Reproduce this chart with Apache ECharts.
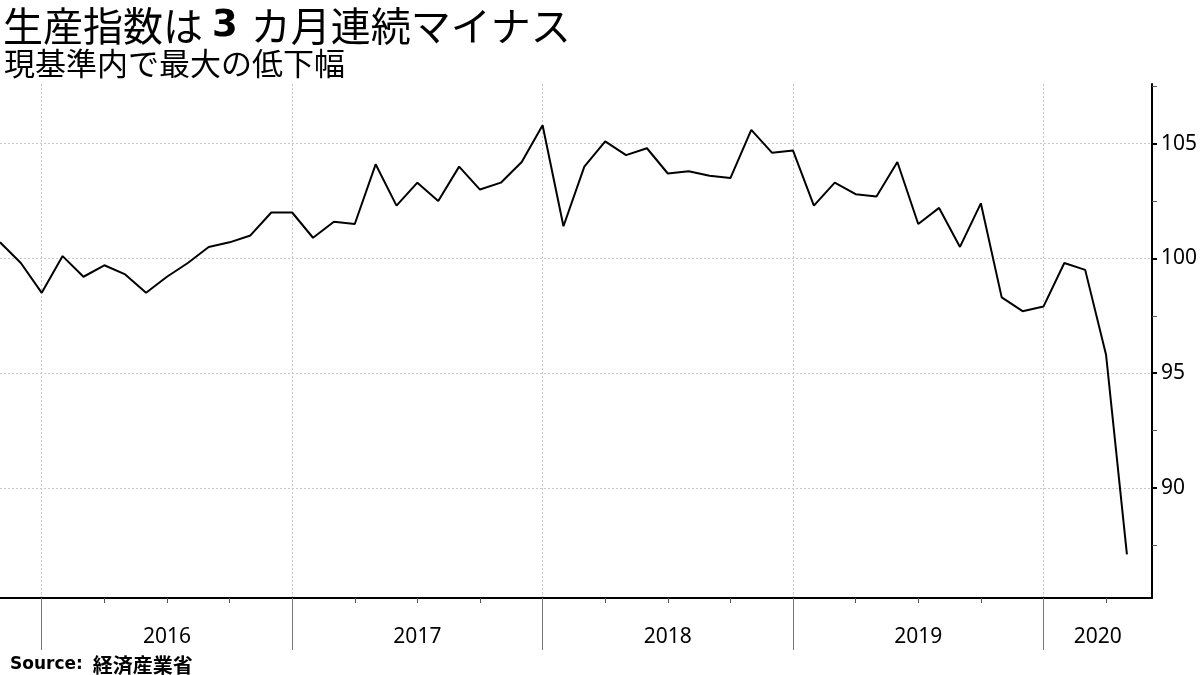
<!DOCTYPE html>
<html>
<head>
<meta charset="utf-8">
<script src="https://cdn.jsdelivr.net/npm/echarts@6/dist/echarts.min.js"></script>
<style>
  html, body { margin: 0; padding: 0; background: #fff; }
  #main { width: 1200px; height: 675px; }
</style>
</head>
<body>
<div id="main"></div>
<script>
// 月（各月末の位置に点を置く）
var months = [
  '2015-10', '2015-11', '2015-12',
  '2016-01', '2016-02', '2016-03', '2016-04', '2016-05', '2016-06', '2016-07', '2016-08', '2016-09', '2016-10', '2016-11', '2016-12',
  '2017-01', '2017-02', '2017-03', '2017-04', '2017-05', '2017-06', '2017-07', '2017-08', '2017-09', '2017-10', '2017-11', '2017-12',
  '2018-01', '2018-02', '2018-03', '2018-04', '2018-05', '2018-06', '2018-07', '2018-08', '2018-09', '2018-10', '2018-11', '2018-12',
  '2019-01', '2019-02', '2019-03', '2019-04', '2019-05', '2019-06', '2019-07', '2019-08', '2019-09', '2019-10', '2019-11', '2019-12',
  '2020-01', '2020-02', '2020-03', '2020-04'
];
// 鉱工業生産指数
var values = [
  100.7, 99.8, 98.5,
  100.1, 99.2, 99.7, 99.3, 98.5, 99.2, 99.8, 100.5, 100.7, 101.0, 102.0, 102.0,
  100.9, 101.6, 101.5, 104.1, 102.3, 103.3, 102.5, 104.0, 103.0, 103.3, 104.2, 105.8,
  101.4, 104.0, 105.1, 104.5, 104.8, 103.7, 103.8, 103.6, 103.5, 105.6, 104.6, 104.7,
  102.3, 103.3, 102.8, 102.7, 104.2, 101.5, 102.2, 100.5, 102.4, 98.3, 97.7, 97.9,
  99.8, 99.5, 95.8, 87.1
];
var yearLabels = ['2016', '2017', '2018', '2019', '2020'];
var yTicks = [90, 95, 100, 105];
var yMinorTicks = [87.5, 92.5, 97.5, 102.5, 107.5];

var xMax = 55.2;
var yMin = 85.2, yMax = 107.6;
var yearTicks = [];
var quarterTicks = [];
months.forEach(function (m, i) {
  var mm = m.slice(5);
  if (mm === '12') yearTicks.push(i);
  if (mm === '03' || mm === '06' || mm === '09') quarterTicks.push(i);
});
var labelPos = yearTicks.map(function (t, i) {
  var next = i + 1 < yearTicks.length ? yearTicks[i + 1] : xMax;
  return (t + next) / 2;
});

var seriesData = values.map(function (v, i) { return [i, v]; });

var myChart = echarts.init(document.getElementById('main'));
var font = 'Noto Sans';
var cjk = '"Noto Sans CJK JP"';
var gridDash = { color: '#c8c8c8', type: [2, 2], width: 1 };

var option = {
  backgroundColor: '#fff',
  animation: false,
  title: [{
    text: '生産指数は{b|3}カ月連続マイナス',
    left: -2, top: 1,
    textStyle: {
      fontFamily: cjk, fontSize: 40, fontWeight: 'normal', color: '#000',
      rich: { b: { fontFamily: 'DejaVu Sans', fontWeight: 'bold', fontSize: 37, color: '#000', padding: [0, 13, 0, 9] } }
    }
  }, {
    text: '現基準内で最大の低下幅',
    left: -1, top: 43,
    textStyle: { fontFamily: cjk, fontSize: 31, fontWeight: 'normal', color: '#000' }
  }, {
    text: '{s|Source:}  {c|経済産業省}',
    left: 5, top: 650,
    textStyle: {
      rich: {
        s: { fontFamily: 'DejaVu Sans', fontWeight: 'bold', fontSize: 17, color: '#000' },
        c: { fontFamily: cjk, fontWeight: 'bold', fontSize: 20, color: '#000' }
      }
    }
  }],
  grid: { left: 0, right: 48, top: 84, bottom: 77, containLabel: false },
  xAxis: [{
    type: 'value', min: 0, max: xMax, position: 'bottom',
    axisLine: { show: true, onZero: false, lineStyle: { color: '#000', width: 2 } },
    axisTick: { show: true, customValues: yearTicks, length: 52, lineStyle: { color: '#777', width: 1 } },
    axisLabel: { show: false },
    splitLine: { show: true, lineStyle: gridDash }
  }, {
    type: 'value', min: 0, max: xMax, position: 'bottom',
    axisLine: { show: false, onZero: false },
    axisTick: { show: true, customValues: quarterTicks, length: 5, lineStyle: { color: '#555', width: 1 } },
    axisLabel: { show: false },
    splitLine: { show: false }
  }, {
    type: 'value', min: 0, max: xMax, position: 'bottom',
    axisLine: { show: false, onZero: false },
    axisTick: { show: false },
    axisLabel: {
      show: true, customValues: labelPos, margin: 29,
      fontFamily: font, fontSize: 21, color: '#000',
      formatter: function (v) {
        var k = 0;
        for (var i = 0; i < yearTicks.length; i++) if (v > yearTicks[i]) k = i;
        return yearLabels[k];
      }
    },
    splitLine: { show: false }
  }],
  yAxis: [{
    type: 'value', min: yMin, max: yMax, position: 'right',
    axisLine: { show: true, onZero: false, lineStyle: { color: '#000', width: 2 } },
    axisTick: { show: true, customValues: yTicks, length: 5, lineStyle: { color: '#000', width: 2 } },
    axisLabel: { show: true, customValues: yTicks, margin: 9, fontFamily: font, fontSize: 21, color: '#000' },
    splitLine: { show: true, lineStyle: gridDash }
  }, {
    type: 'value', min: yMin, max: yMax, position: 'right',
    axisLine: { show: false, onZero: false },
    axisTick: { show: true, customValues: yMinorTicks, length: 5, lineStyle: { color: '#555', width: 1 } },
    axisLabel: { show: false },
    splitLine: { show: false }
  }],
  series: [{
    type: 'line',
    xAxisIndex: 0, yAxisIndex: 0,
    data: seriesData,
    showSymbol: false,
    lineStyle: { color: '#000', width: 2 },
    z: 5
  }]
};

myChart.setOption(option);
</script>
</body>
</html>
